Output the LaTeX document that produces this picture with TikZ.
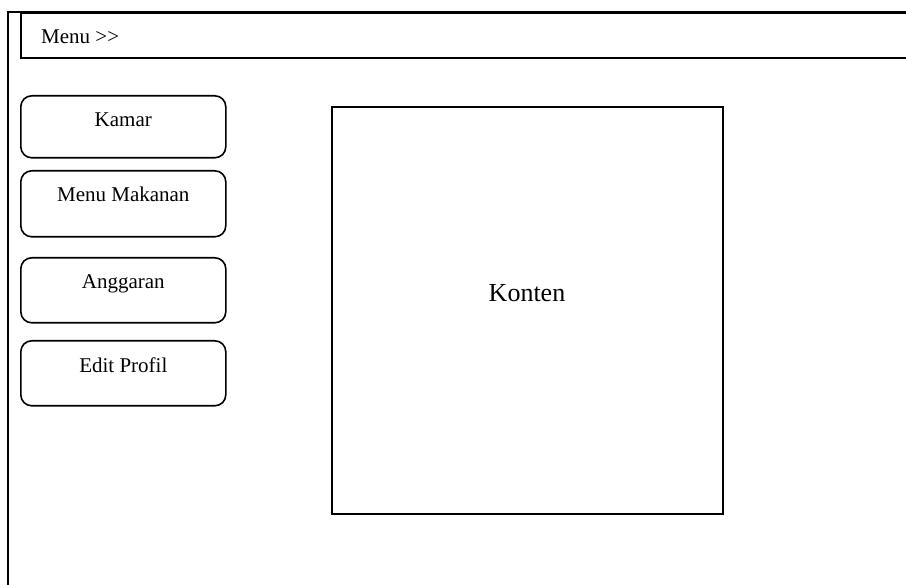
\documentclass[tikz,border=0pt]{standalone}
\usepackage{fontspec}
\setmainfont{Liberation Serif}
\begin{document}
\begin{tikzpicture}[x=1pt,y=-1pt,
  frameline/.style={draw=black,line width=1.6pt},
  navbtn/.style={frameline,rounded corners=11pt,minimum width=205pt,inner sep=0pt,anchor=north west},
  lbl/.style={font=\fontsize{21}{25}\selectfont,anchor=base,inner sep=0pt}]
\useasboundingbox (0,0) rectangle (906,585);
\clip (0,0) rectangle (906,585);
% outer window frame
\coordinate (frameTR) at (910,12);
\coordinate (frameTL) at (8,12);
\coordinate (frameBL) at (8,590);
\draw[frameline] (frameTR) -- (frameTL) -- (frameBL);
% top menu bar
\node[frameline,anchor=north west,minimum width=886pt,minimum height=45pt,inner sep=0pt] (bar) at (20,12) {};
\node[lbl,anchor=base west] (barText) at (41,44) {Menu >{}>};
% side navigation buttons
\node[navbtn,minimum height=62pt] (kamar) at (20,95) {};
\node[lbl] at ([yshift=-32pt]kamar.north) {Kamar};
\node[navbtn,minimum height=66pt] (makan) at (20,170) {};
\node[lbl] at ([yshift=-32pt]makan.north) {Menu Makanan};
\node[navbtn,minimum height=65pt] (anggaran) at (20,257) {};
\node[lbl] at ([yshift=-32pt]anggaran.north) {Anggaran};
\node[navbtn,minimum height=65pt] (profil) at (20,340) {};
\node[lbl] at ([yshift=-33pt]profil.north) {Edit Profil};
% content area
\node[frameline,anchor=north west,minimum width=391pt,minimum height=407pt,inner sep=0pt] (konten) at (331,106) {};
\node[lbl,font=\fontsize{26}{30}\selectfont] at (527,302) {Konten};
\end{tikzpicture}
\end{document}
